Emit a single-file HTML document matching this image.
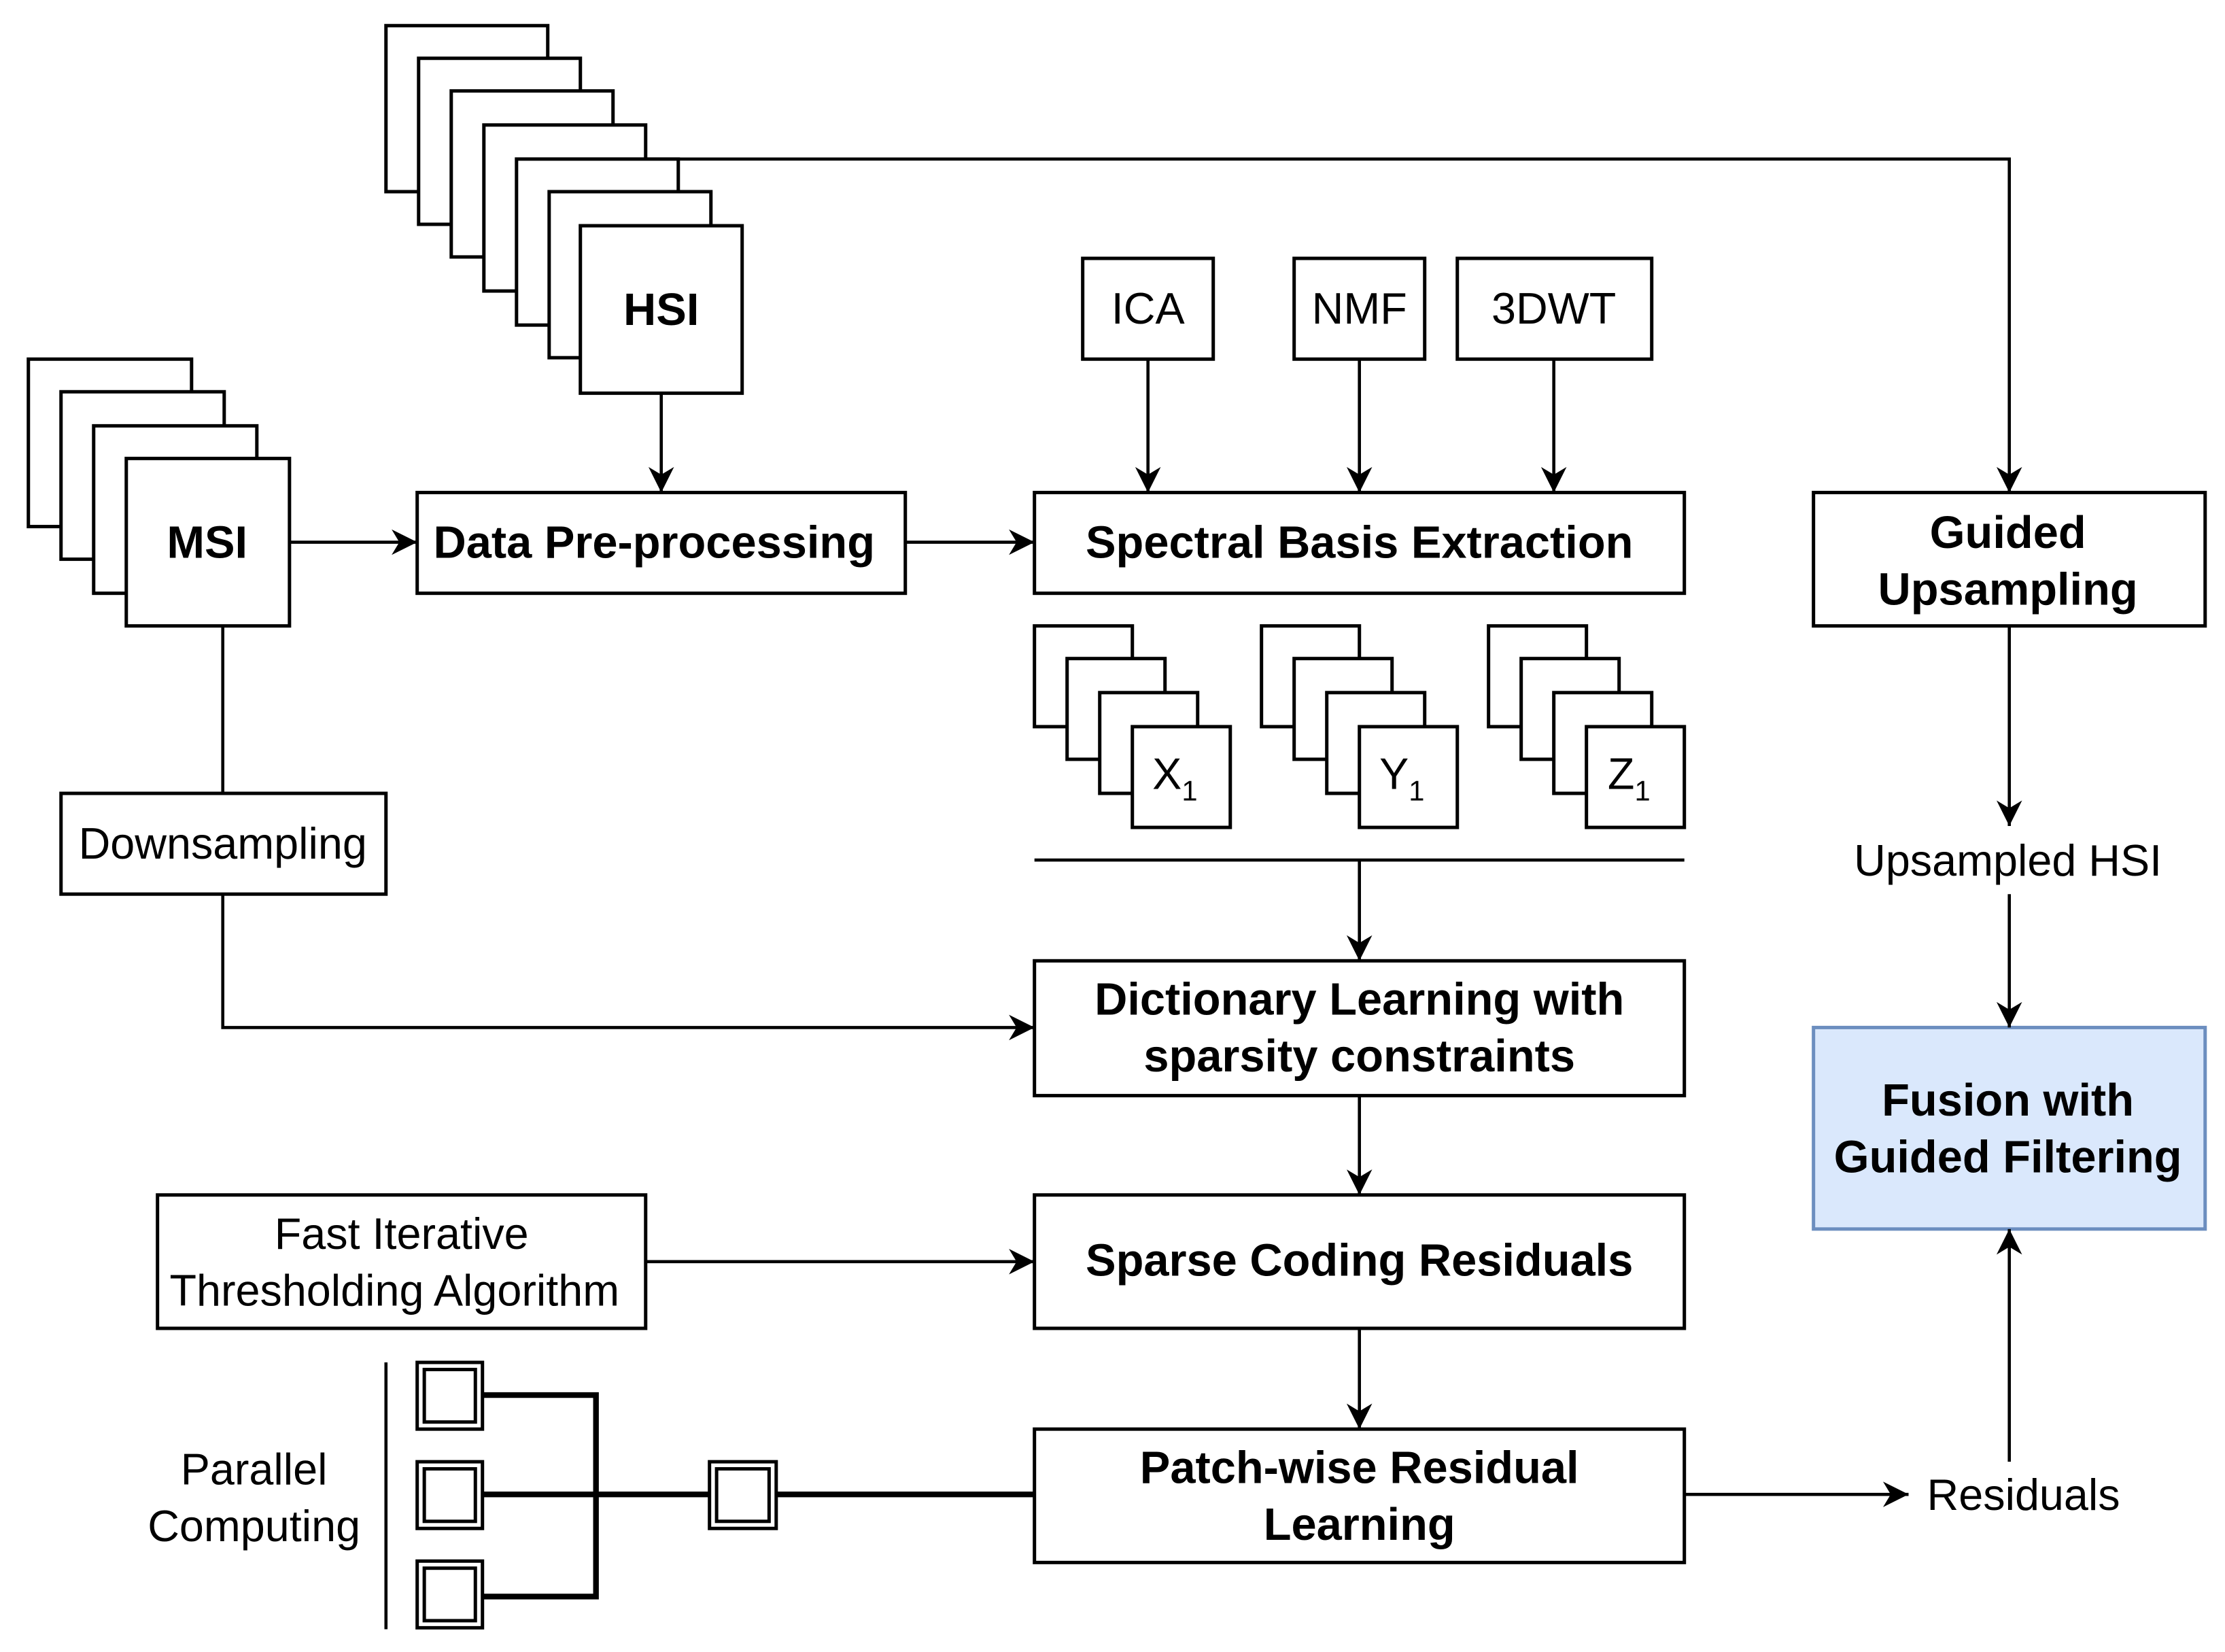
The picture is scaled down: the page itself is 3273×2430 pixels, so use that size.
<!DOCTYPE html>
<html><head><meta charset="utf-8"><style>html,body{margin:0;padding:0;background:#fff}svg{display:block}</style></head>
<body>
<svg width="3273" height="2430" viewBox="0 0 1568 1164" xmlns="http://www.w3.org/2000/svg" font-family="'Liberation Sans', sans-serif">
<defs><marker id="a" viewBox="0 0 10 10" refX="10" refY="5" markerWidth="18" markerHeight="18" markerUnits="userSpaceOnUse" orient="auto"><path d="M0,0 L10,5 L0,10 L3,5 z" fill="#000"/></marker></defs>
<g fill="#fff" stroke="#000" stroke-width="2.4">
<rect x="272" y="18" width="114" height="117"/><rect x="295" y="41" width="114" height="117"/><rect x="318" y="64" width="114" height="117"/><rect x="341" y="88" width="114" height="117"/><rect x="364" y="112" width="114" height="117"/><rect x="387" y="135" width="114" height="117"/><rect x="409" y="159" width="114" height="118"/>
<rect x="20" y="253" width="115" height="118"/><rect x="43" y="276" width="115" height="118"/><rect x="66" y="300" width="115" height="118"/><rect x="89" y="323" width="115" height="118"/>
<rect x="294" y="347" width="344" height="71"/>
<rect x="729" y="347" width="458" height="71"/>
<rect x="763" y="182" width="92" height="71"/><rect x="912" y="182" width="92" height="71"/><rect x="1027" y="182" width="137" height="71"/>
<rect x="1278" y="347" width="276" height="94"/>
<rect x="729" y="677" width="458" height="95"/><rect x="729" y="842" width="458" height="94"/><rect x="729" y="1007" width="458" height="94"/>
<rect x="43" y="559" width="229" height="71"/><rect x="111" y="842" width="344" height="94"/>
<rect x="1278" y="724" width="276" height="142" fill="#dae8fc" stroke="#6c8ebf"/>
</g>
<g fill="#fff" stroke="#000" stroke-width="2.4">
<g><rect x="729" y="441" width="69" height="71"/><rect x="752" y="464" width="69" height="71"/><rect x="775" y="488" width="69" height="71"/><rect x="798" y="512" width="69" height="71"/></g>
<g transform="translate(160,0)"><rect x="729" y="441" width="69" height="71"/><rect x="752" y="464" width="69" height="71"/><rect x="775" y="488" width="69" height="71"/><rect x="798" y="512" width="69" height="71"/></g>
<g transform="translate(320,0)"><rect x="729" y="441" width="69" height="71"/><rect x="752" y="464" width="69" height="71"/><rect x="775" y="488" width="69" height="71"/><rect x="798" y="512" width="69" height="71"/></g>
</g>
<g fill="none" stroke="#000" stroke-width="2.2">
<polyline points="478,112 1416,112 1416,347" marker-end="url(#a)"/>
<line x1="466" y1="277" x2="466" y2="347" marker-end="url(#a)"/>
<line x1="204" y1="382" x2="294" y2="382" marker-end="url(#a)"/>
<line x1="638" y1="382" x2="729" y2="382" marker-end="url(#a)"/>
<line x1="809" y1="253" x2="809" y2="347" marker-end="url(#a)"/>
<line x1="958" y1="253" x2="958" y2="347" marker-end="url(#a)"/>
<line x1="1095" y1="253" x2="1095" y2="347" marker-end="url(#a)"/>
<line x1="729" y1="606" x2="1187" y2="606"/>
<line x1="958" y1="606" x2="958" y2="677" marker-end="url(#a)"/>
<line x1="958" y1="772" x2="958" y2="842" marker-end="url(#a)"/>
<line x1="958" y1="936" x2="958" y2="1007" marker-end="url(#a)"/>
<line x1="157" y1="441" x2="157" y2="559"/>
<polyline points="157,630 157,724 729,724" marker-end="url(#a)"/>
<line x1="455" y1="889" x2="729" y2="889" marker-end="url(#a)"/>
<line x1="1187" y1="1053" x2="1345" y2="1053" marker-end="url(#a)"/>
<line x1="1416" y1="1030" x2="1416" y2="866" marker-end="url(#a)"/>
<line x1="1416" y1="441" x2="1416" y2="582" marker-end="url(#a)"/>
<line x1="1416" y1="630" x2="1416" y2="724" marker-end="url(#a)"/>
<line x1="272" y1="960" x2="272" y2="1148"/>
</g>
<g fill="none" stroke="#000" stroke-width="4">
<polyline points="340,983 420,983 420,1125 340,1125"/>
<line x1="340" y1="1053" x2="500" y2="1053"/>
<line x1="547" y1="1053" x2="729" y2="1053"/>
</g>
<g fill="#fff" stroke="#000" stroke-width="2.4">
<rect x="294" y="960" width="46" height="47"/><rect x="299" y="965" width="36" height="37"/>
<rect x="294" y="1030" width="46" height="47"/><rect x="299" y="1035" width="36" height="37"/>
<rect x="294" y="1100" width="46" height="47"/><rect x="299" y="1105" width="36" height="37"/>
<rect x="500" y="1030" width="47" height="47"/><rect x="505" y="1035" width="37" height="37"/>
</g>
<g font-weight="bold" font-size="32" text-anchor="middle" fill="#000">
<text x="466" y="229">HSI</text>
<text x="146" y="393">MSI</text>
<text x="461" y="393">Data Pre-processing</text>
<text x="958" y="393">Spectral Basis Extraction</text>
<text x="1415" y="386">Guided</text><text x="1415" y="426">Upsampling</text>
<text x="958" y="715">Dictionary Learning with</text><text x="958" y="755">sparsity constraints</text>
<text x="958" y="899">Sparse Coding Residuals</text>
<text x="958" y="1045">Patch-wise Residual</text><text x="958" y="1085">Learning</text>
<text x="1415" y="786">Fusion with</text><text x="1415" y="826">Guided Filtering</text>
</g>
<g font-size="31" text-anchor="middle" fill="#000">
<text x="809" y="228">ICA</text><text x="958" y="228">NMF</text><text x="1095" y="228">3DWT</text>
<text x="157" y="605">Downsampling</text>
<text x="283" y="880">Fast Iterative</text><text x="278" y="920">Thresholding Algorithm</text>
<text x="1415" y="617">Upsampled HSI</text>
<text x="1426" y="1064">Residuals</text>
<text x="179" y="1046">Parallel</text><text x="179" y="1086">Computing</text>
<text x="828" y="556">X<tspan font-size="20" dy="8">1</tspan></text>
<text x="988" y="556">Y<tspan font-size="20" dy="8">1</tspan></text>
<text x="1148" y="556">Z<tspan font-size="20" dy="8">1</tspan></text>
</g>
</svg>
</body></html>
